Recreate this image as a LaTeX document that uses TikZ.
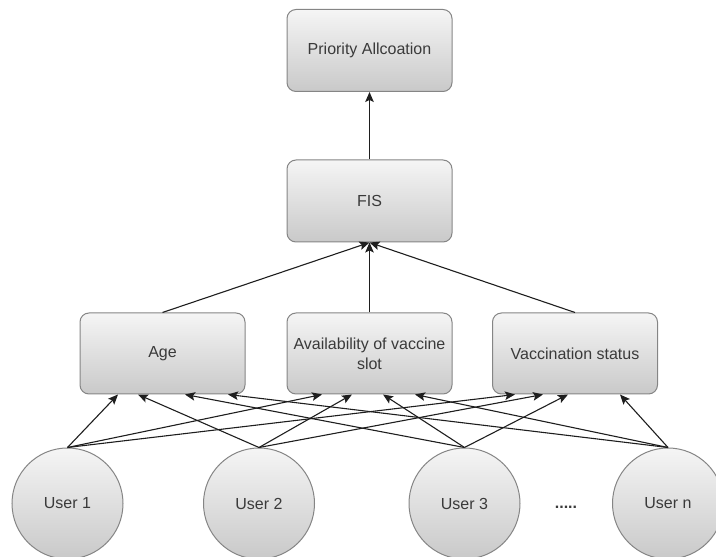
\documentclass[tikz,border=0pt]{standalone}
\usepackage{fontspec}
\setmainfont{Liberation Sans}
\usetikzlibrary{arrows.meta}
\definecolor{boxline}{HTML}{858585}
\definecolor{boxtop}{HTML}{F5F5F5}
\definecolor{boxbot}{HTML}{C9C9C9}
\definecolor{txt}{HTML}{3A3A3A}
\definecolor{wire}{HTML}{1E1E1E}
\tikzset{
  block/.style={draw=boxline, line width=1pt, rounded corners=9pt,
    top color=boxtop, bottom color=boxbot, minimum width=165pt,
    minimum height=82pt, inner sep=2pt, align=center, text=txt,
    font=\fontsize{16}{20}\selectfont},
  user/.style={circle, draw=boxline, line width=1pt, minimum size=111pt,
    inner sep=0pt, top color=boxtop, bottom color=boxbot, text=txt,
    font=\fontsize{16}{20}\selectfont},
  link/.style={draw=wire, line width=1.1pt,
    -{Stealth[length=10pt,width=8.5pt,inset=2pt]}}
}
\begin{document}
\begin{tikzpicture}[x=1pt,y=1pt]
  \useasboundingbox (0,0) rectangle (716,557);

  % decision chain
  \node[block] (prio) at (369.5,506.5) {Priority Allcoation};
  \node[block] (fis)  at (369.5,356) {FIS};

  % criteria
  \node[block, minimum height=81pt] (age)   at (162.5,203.5) {Age};
  \node[block, minimum height=81pt] (avail) at (369.5,203.5) {Availability of vaccine\\slot};
  \node[block, minimum height=81pt] (vacc)  at (575,203.5) {Vaccination status};

  % users
  \node[user] (u1) at (67.5,53.5) {User 1};
  \node[user] (u2) at (259,53.5) {User 2};
  \node[user] (u3) at (464.5,53.5) {User 3};
  \node[user] (un) at (668,53.5) {User n};
  \node[text=txt, font=\fontsize{16}{20}\selectfont\bfseries] (dots) at (566,50) {.....};

  % criteria feed the inference system
  \draw[link] (fis.north) -- (prio.south);
  \draw[link] (age.north) -- (fis.south);
  \draw[link] (avail.north) -- (fis.south);
  \draw[link] (vacc.north) -- (fis.south);

  % every user feeds every criterion
  \draw[link] (u1.north) -- ([xshift=-44.5pt]age.south);
  \draw[link] (u1.north) -- ([xshift=-47.5pt]avail.south);
  \draw[link] (u1.north) -- ([xshift=-60pt]vacc.south);

  \draw[link] (u2.north) -- ([xshift=-24.5pt]age.south);
  \draw[link] (u2.north) -- ([xshift=-17.5pt]avail.south);
  \draw[link] (u2.north) -- ([xshift=-32pt]vacc.south);

  \draw[link] (u3.north) -- ([xshift=22.5pt]age.south);
  \draw[link] (u3.north) -- ([xshift=13.5pt]avail.south);
  \draw[link] (u3.north) -- ([xshift=-7pt]vacc.south);

  \draw[link] (un.north) -- ([xshift=65.5pt]age.south);
  \draw[link] (un.north) -- ([xshift=45.5pt]avail.south);
  \draw[link] (un.north) -- ([xshift=45pt]vacc.south);
\end{tikzpicture}
\end{document}
